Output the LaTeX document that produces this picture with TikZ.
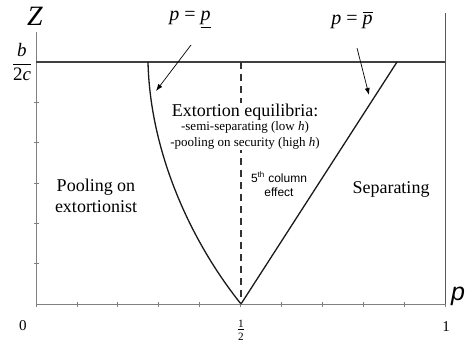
\documentclass[tikz,border=0pt]{standalone}
\usepackage{amsmath}
\usepackage{fontspec}
\setmainfont{Liberation Serif}
\setsansfont{Liberation Sans}
\usetikzlibrary{arrows.meta, positioning}

\begin{document}
\begin{tikzpicture}[
  x=1pt, y=-1pt,
  axis/.style={draw=black!50, line width=0.8pt},
  bound/.style={draw=black!90, line width=1.3pt},
  frame/.style={draw=black!75, line width=1.2pt},
  pointer/.style={-{Latex[length=7pt,width=5pt]}, line width=0.7pt},
  region/.style={align=center, font=\fontsize{18}{21.5}\selectfont},
  note/.style={align=center, fill=white, inner sep=0.5pt, font=\fontsize{13}{16}\selectfont},
  ticklab/.style={font=\fontsize{15}{15}\selectfont},
  thresh/.style={font=\fontsize{20}{20}\selectfont, inner sep=1pt}
]
\useasboundingbox (0,0) rectangle (466,343);

% corners of the region
\coordinate (origin) at (36,304);
\coordinate (half) at (241,304);
\coordinate (one) at (445,304);
\coordinate (ztop) at (36,32);
\coordinate (zlevel) at (36,62);
\coordinate (rlevel) at (445,62);
\coordinate (rtop) at (445,13);
\coordinate (lowtop) at (148,62);
\coordinate (hightop) at (397,62);

% axes and ticks
\draw[axis] (ztop) -- (origin) -- (one);
\foreach \i in {0,...,10}
  \draw[axis] ({36+40.9*\i},301.5) -- ++(0,5);
\foreach \j in {1,...,5}
  \draw[axis] (33.5,{304-40.33*\j}) -- ++(5,0);

% level b/2c and right edge
\draw[frame] (zlevel) -- (rlevel);
\draw[frame, line width=0.9pt, black!65] (rtop) -- (one);

% boundaries
\draw[bound] (lowtop) .. controls (150,150) and (189,239) .. (half);
\draw[bound] (half) -- (hightop);
\draw[dashed, dash pattern=on 7pt off 5pt, line width=1.4pt, black!80] (half |- zlevel) -- (half);

% axis labels
\node (zlab) at (35,16) {\fontsize{28}{28}\selectfont\itshape Z};
\node (blab) at (22,62) {\fontsize{19}{19}\selectfont$\dfrac{\textit{b}}{\text{2}\textit{c}}$};
\node[anchor=base] (plab) at (458,300) {\fontsize{25}{25}\selectfont\sffamily\itshape p};
\node[ticklab] (zero) at (23,326) {0};
\node[ticklab] (unit) at (446,327) {1};
\node (halflab) at (241,330) {\fontsize{16}{16}\selectfont$\frac{\text{1}}{\text{2}}$};

% thresholds
\node[thresh] (plow) at (190,20) {\textit{p} = \underline{\textit{p}}};
\node[thresh] (phigh) at (352,20) {\textit{p} = $\overline{\text{\textit{p}}}$};
\coordinate (plowtip) at (156,91);
\coordinate (phightip) at (369,95);
\draw[pointer] (191,45) -- (plowtip);
\draw[pointer] (357,48) -- (phightip);

% regions
\node[region] (pool) at (96,196) {Pooling on\\extortionist};
\node[region] (sep) at (391,189) {Separating};
\node[region, fill=white, inner sep=0.5pt] (eqhead) at (245,112) {Extortion equilibria:};
\node[note, below=0pt of eqhead.south, anchor=north] (eqsemi) {-semi-separating (low \textit{h})\\-pooling on security (high \textit{h})};
\node[align=center, font=\fontsize{12}{14}\selectfont\sffamily] (fifth) at (279,184) {5\textsuperscript{th} column\\effect};

\end{tikzpicture}
\end{document}
